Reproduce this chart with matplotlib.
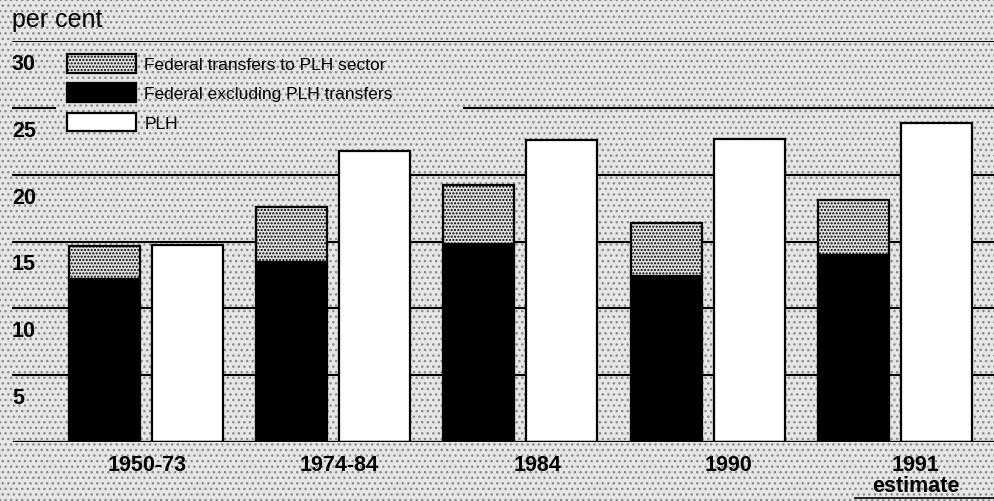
import matplotlib
matplotlib.use("Agg")
import matplotlib.pyplot as plt
import numpy as np
from matplotlib.patches import Patch, Rectangle
from matplotlib.lines import Line2D
from matplotlib.transforms import ScaledTranslation

plt.rcParams['font.family'] = ['Liberation Sans', 'DejaVu Sans']
plt.rcParams['hatch.linewidth'] = 1.0

# ---- data ----
categories = ["1950-73", "1974-84", "1984", "1990", "1991\nestimate"]
federal_excl = [12.2, 13.5, 14.8, 12.4, 14.0]
federal_transfers = [2.45, 4.1, 4.45, 4.0, 4.1]
plh = [14.75, 21.8, 22.6, 22.7, 23.9]
yticks = [5, 10, 15, 20, 25, 30]
legend_labels = ["Federal transfers to PLH sector",
                 "Federal excluding PLH transfers",
                 "PLH"]

W, H = 995, 502
fig = plt.figure(figsize=(W / 100, H / 100), dpi=100)
fig.patch.set_facecolor('#e6e6e6')
# stippled background
bg = Rectangle((0, 0), 1, 1, transform=fig.transFigure, facecolor='#e6e6e6',
               edgecolor='#8a8a8a', hatch='...', lw=0, zorder=-10)
fig.patches.append(bg)

ax = fig.add_axes([12 / W, (H - 443) / H, (W - 12) / W, 401 / H])
ax.set_facecolor('none')
ax.set_xlim(-0.714, 4.534)
ax.set_ylim(0, 30)
for s in ax.spines.values():
    s.set_visible(False)

x = np.arange(len(categories))
off = 0.222
bw = 0.379
stip_kw = dict(facecolor='#e0e0e0', edgecolor='black', hatch='.....', lw=1.6)

# gridlines
for v in yticks:
    if v == 25:
        ax.axhline(v, xmin=0, xmax=(55 - 12) / (W - 12), color='black', lw=1.5, zorder=1)
        ax.axhline(v, xmin=(464 - 12) / (W - 12), xmax=1, color='black', lw=1.5, zorder=1)
    else:
        ax.axhline(v, color='black', lw=1.5, zorder=1)
ax.axhline(0, xmin=2 / (W - 12), color='black', lw=2.4, zorder=4)

ax.bar(x - off, federal_excl, bw, color='black', edgecolor='black', lw=1.6, zorder=3)
ax.bar(x - off, federal_transfers, bw, bottom=federal_excl, zorder=3, **stip_kw)
ax.bar(x + off, plh, bw, color='white', edgecolor='black', lw=1.6, zorder=3)

# y tick labels below each gridline
ax.set_yticks(yticks)
ax.set_yticklabels([str(v) for v in yticks], fontsize=15.5, fontweight='bold')
ax.tick_params(axis='y', length=0, pad=0)
for lab in ax.get_yticklabels():
    lab.set_horizontalalignment('left')
    lab.set_transform(lab.get_transform() + ScaledTranslation(0, -0.20, fig.dpi_scale_trans))

tick_shift = [0.01, 0.03, 0.09, 0.11, 0.11]
ax.set_xticks(x + np.array(tick_shift))
ax.set_xticklabels(categories, fontsize=15.5, fontweight='bold', linespacing=0.95)
ax.tick_params(axis='x', length=0, pad=9)

fig.text(12 / W, 1 - 27 / H, "per cent", fontsize=18, va='baseline', ha='left')

handles = [Patch(**stip_kw),
           Patch(facecolor='black', edgecolor='black', lw=1.6),
           Patch(facecolor='white', edgecolor='black', lw=1.6)]
fig.legend(handles, legend_labels, loc='upper left',
           bbox_to_anchor=(67 / W, 1 - 55 / H), bbox_transform=fig.transFigure,
           frameon=False, fontsize=12.5, handlelength=4.0, handleheight=1.27,
           labelspacing=0.62, handletextpad=0.45, borderpad=0, borderaxespad=0)

fig.add_artist(Line2D([855 / W, 1], [1 - 499 / H, 1 - 499 / H], color='black', lw=1.2,
                      transform=fig.transFigure))

fig.savefig("out.png", dpi=100, facecolor=fig.get_facecolor())
